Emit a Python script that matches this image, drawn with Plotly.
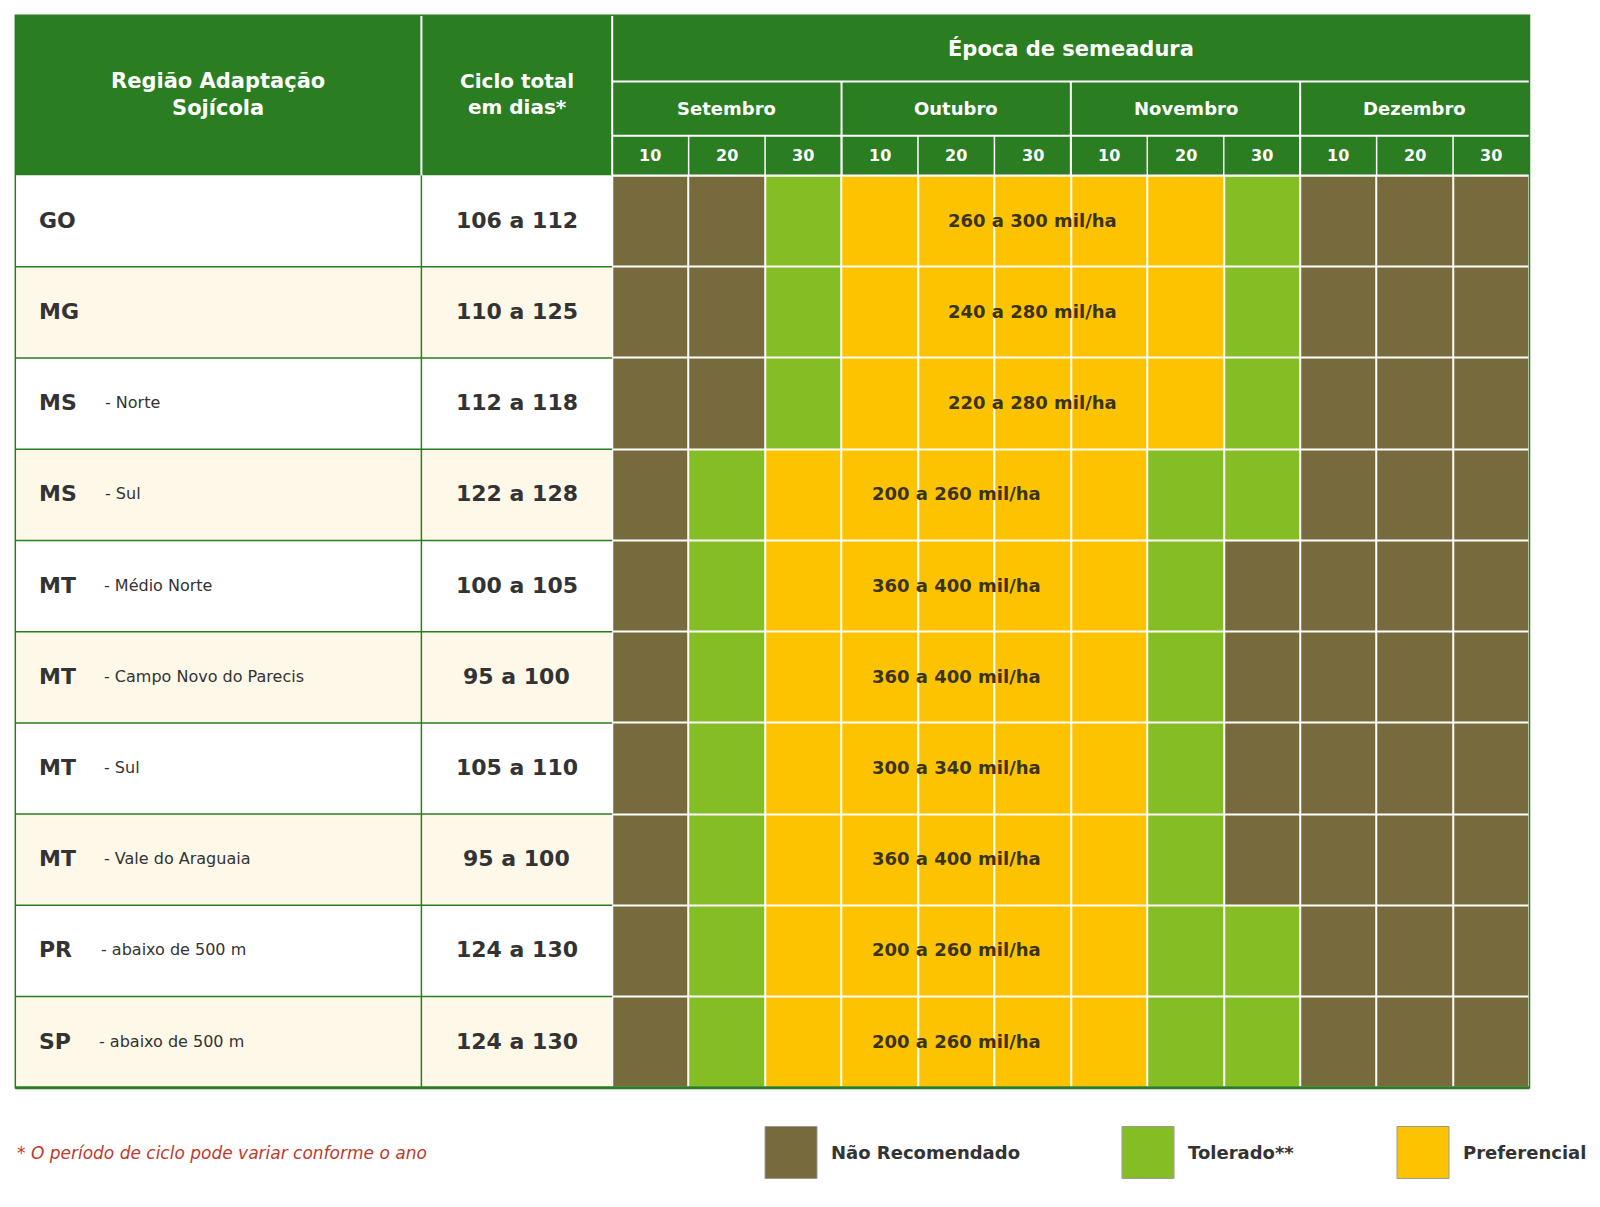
import plotly.graph_objects as go

# ---------------- data ----------------
regions = ["GO", "MG", "MS", "MS", "MT", "MT", "MT", "MT", "PR", "SP"]
subregions = ["", "", "- Norte", "- Sul", "- Médio Norte", "- Campo Novo do Parecis",
              "- Sul", "- Vale do Araguaia", "- abaixo de 500 m", "- abaixo de 500 m"]
cycles = ["106 a 112", "110 a 125", "112 a 118", "122 a 128", "100 a 105", "95 a 100",
          "105 a 110", "95 a 100", "124 a 130", "124 a 130"]
months = ["Setembro", "Outubro", "Novembro", "Dezembro"]
days = ["10", "20", "30"]
# 0 = Não Recomendado, 1 = Tolerado, 2 = Preferencial
status = [
    [0, 0, 1, 2, 2, 2, 2, 2, 1, 0, 0, 0],
    [0, 0, 1, 2, 2, 2, 2, 2, 1, 0, 0, 0],
    [0, 0, 1, 2, 2, 2, 2, 2, 1, 0, 0, 0],
    [0, 1, 2, 2, 2, 2, 2, 1, 1, 0, 0, 0],
    [0, 1, 2, 2, 2, 2, 2, 1, 0, 0, 0, 0],
    [0, 1, 2, 2, 2, 2, 2, 1, 0, 0, 0, 0],
    [0, 1, 2, 2, 2, 2, 2, 1, 0, 0, 0, 0],
    [0, 1, 2, 2, 2, 2, 2, 1, 0, 0, 0, 0],
    [0, 1, 2, 2, 2, 2, 2, 1, 1, 0, 0, 0],
    [0, 1, 2, 2, 2, 2, 2, 1, 1, 0, 0, 0],
]
densities = ["260 a 300 mil/ha", "240 a 280 mil/ha", "220 a 280 mil/ha", "200 a 260 mil/ha",
             "360 a 400 mil/ha", "360 a 400 mil/ha", "300 a 340 mil/ha", "360 a 400 mil/ha",
             "200 a 260 mil/ha", "200 a 260 mil/ha"]
legend_labels = ["Não Recomendado", "Tolerado**", "Preferencial"]
footnote = "* O período de ciclo pode variar conforme o ano"
title_epoca = "Época de semeadura"
col1_title = "Região Adaptação<br>Sojícola"
col2_title = "Ciclo total<br>em dias*"

# ---------------- style / layout ----------------
PAGE_MARGIN = 8
W, H = 1600 - 2 * PAGE_MARGIN, 1207 - 2 * PAGE_MARGIN
GREEN_H = "#2a7d21"
BROWN = "#776a3d"
LGREEN = "#84be24"
YELLOW = "#fec300"
ALT = "#fef8e9"
TXT = "#333333"
FONT = "DejaVu Sans"
state_colors = [BROWN, LGREEN, YELLOW]
# approximate advance widths (em fraction) of DejaVu Sans Bold capitals
CHAR_EM = {"G": 0.819, "O": 0.855, "M": 0.974, "S": 0.718, "T": 0.683, "P": 0.736, "R": 0.770}

X0, X1, X2, XR = 15.3, 421.4, 612.2, 1529.5
Y0, YM, YD, YH = 15.3, 81.6, 135.7, 175.5
YB = 1087.8
n_rows = len(regions)
n_cols = len(months) * len(days)
row_h = (YB - YH) / n_rows
cell_w = (XR - X2) / n_cols

fig = go.Figure()
shapes = []
ann = []

def rect(x0, y0, x1, y1, fill, line_color=None, lw=0):
    shapes.append(dict(type="rect", xref="x", yref="y", x0=x0, y0=y0, x1=x1, y1=y1,
                       fillcolor=fill, line=dict(color=line_color or fill, width=lw),
                       layer="below"))

def line(x0, y0, x1, y1, color, width, layer="above"):
    shapes.append(dict(type="line", xref="x", yref="y", x0=x0, y0=y0, x1=x1, y1=y1,
                       line=dict(color=color, width=width), layer=layer))

def text(x, y, t, size, color=TXT, bold=True, xanchor="center", style="normal"):
    ann.append(dict(x=x, y=y, xref="x", yref="y", text=t, showarrow=False,
                    xanchor=xanchor, yanchor="middle", align="center",
                    font=dict(family=FONT, size=size, color=color,
                              weight="bold" if bold else "normal", style=style)))

# header background
rect(X0, Y0, XR, YH, GREEN_H)
# left column row backgrounds
for i in range(n_rows):
    ya = YH + i * row_h
    rect(X0, ya, X2, ya + row_h, "white" if i % 2 == 0 else ALT)

# heatmap of planting windows
xc = [X2 + (j + 0.5) * cell_w for j in range(n_cols)]
yc = [YH + (i + 0.5) * row_h for i in range(n_rows)]
fig.add_trace(go.Heatmap(
    z=status, x=xc, y=yc, zmin=0, zmax=2,
    colorscale=[[0, BROWN], [0.333, BROWN], [0.333, LGREEN], [0.666, LGREEN],
                [0.666, YELLOW], [1, YELLOW]],
    xgap=2, ygap=2, showscale=False, hoverinfo="skip"))

# header white separators
line(X1, Y0, X1, YH, "white", 2)
line(X2, Y0, X2, YH, "white", 2)
line(X2, YM, XR, YM, "white", 2)
line(X2, YD, XR, YD, "white", 2)
for m in range(1, len(months)):
    xm = X2 + m * len(days) * cell_w
    line(xm, YM, xm, YH, "white", 2)
for j in range(1, n_cols):
    xj = X2 + j * cell_w
    line(xj, YD, xj, YH, "white", 1.5)
line(X2, YH, XR, YH, "white", 2)

# left table green lines
for i in range(1, n_rows):
    ya = YH + i * row_h
    line(X0, ya, X2, ya, GREEN_H, 1.5)
line(X1, YH, X1, YB, GREEN_H, 1.5)
# outer border
shapes.append(dict(type="rect", xref="x", yref="y", x0=X0, y0=Y0, x1=XR, y1=YB,
                   fillcolor="rgba(0,0,0,0)", line=dict(color=GREEN_H, width=1.5),
                   layer="above"))
line(X0, YB, XR, YB, GREEN_H, 3)

# header texts
text((X0 + X1) / 2, (Y0 + YH) / 2 - 1, col1_title, 21, "white")
text((X1 + X2) / 2, (Y0 + YH) / 2 - 1, col2_title, 20, "white")
text((X2 + XR) / 2, (Y0 + YM) / 2, title_epoca, 21, "white")
for m, name in enumerate(months):
    xm = X2 + (m + 0.5) * len(days) * cell_w
    text(xm, (YM + YD) / 2, name, 18, "white")
    for d, dd in enumerate(days):
        j = m * len(days) + d
        text(X2 + (j + 0.5) * cell_w, (YD + YH) / 2, dd, 16, "white")

# row texts
LABEL_SIZE = 22
for i in range(n_rows):
    ym = yc[i] - 1
    text(37, ym, regions[i], LABEL_SIZE, TXT, True, "left")
    if subregions[i]:
        lw = sum(CHAR_EM.get(c, 0.75) for c in regions[i]) * LABEL_SIZE
        text(37 + lw + 28.5, ym, subregions[i], 16, TXT, False, "left")
    text((X1 + X2) / 2, ym, cycles[i], 22, TXT)
    pref = [j for j, s in enumerate(status[i]) if s == 2]
    xcen = X2 + (pref[0] + pref[-1] + 1) / 2 * cell_w
    text(xcen, ym, densities[i], 18, "#3a3316")

# footnote
text(15, 1153, footnote, 17, "#c0392b", False, "left", "italic")

# legend
leg_x = [765, 1122, 1397]
for k, lab in enumerate(legend_labels):
    shapes.append(dict(type="rect", xref="x", yref="y", x0=leg_x[k], y0=1126.5,
                       x1=leg_x[k] + 52, y1=1178.5, fillcolor=state_colors[k],
                       line=dict(color="#999999", width=1)))
    text(leg_x[k] + 64, 1152, lab, 18, TXT, True, "left")

fig.update_layout(
    width=W, height=H, margin=dict(l=0, r=0, t=0, b=0),
    paper_bgcolor="white", plot_bgcolor="white",
    xaxis=dict(range=[PAGE_MARGIN, PAGE_MARGIN + W], visible=False, fixedrange=True),
    yaxis=dict(range=[PAGE_MARGIN + H, PAGE_MARGIN], visible=False, fixedrange=True),
    shapes=shapes, annotations=ann, showlegend=False,
)
fig.write_html("out.html")
